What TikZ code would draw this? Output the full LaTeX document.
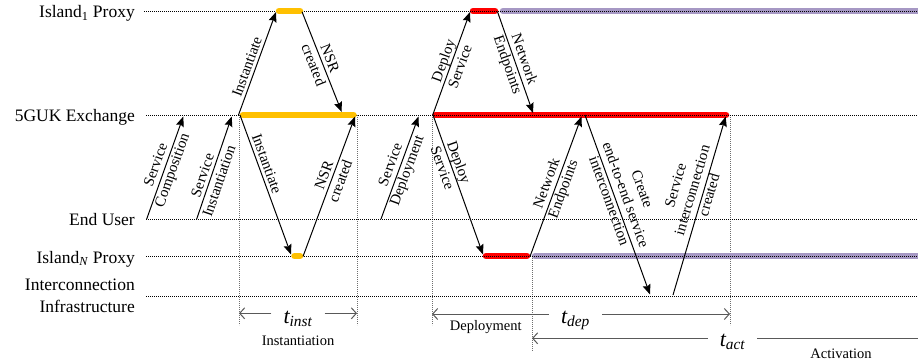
\documentclass[tikz,border=0pt]{standalone}
\usepackage{fontspec}
\setmainfont{Liberation Serif}
\usetikzlibrary{arrows.meta}
\definecolor{barorange}{RGB}{255,192,0}
\definecolor{barred}{RGB}{255,0,0}
\definecolor{barpurple}{RGB}{166,152,196}
\definecolor{tgray}{RGB}{89,89,89}
\definecolor{guidegray}{RGB}{110,110,110}
\begin{document}
\begin{tikzpicture}[x=1pt,y=-1pt,
  rowline/.style={line width=0.7pt, dash pattern=on 0.8pt off 1.2pt},
  guide/.style={guidegray, line width=0.7pt, dash pattern=on 0.8pt off 1.2pt},
  bar/.style={line width=6.5pt, line cap=round},
  msg/.style={line width=1pt, -{Stealth[length=10pt,width=8pt,inset=1.5pt]}},
  msglabel/.style={sloped, align=center, font=\fontsize{15}{17.5}\selectfont, inner sep=1pt},
  msgabove/.style={sloped, above, font=\fontsize{15}{17.5}\selectfont, inner sep=3pt},
  rowlabel/.style={anchor=base east, inner sep=0pt, font=\fontsize{17.5}{22}\selectfont},
  tarrow/.style={tgray, line width=1pt, -{Straight Barb[length=5pt,width=11pt]}},
  tline/.style={tgray, line width=1pt},
  tlab/.style={anchor=base, inner xsep=12pt, inner ysep=0pt, font=\fontsize{22}{24}\selectfont\itshape},
  phaselabel/.style={anchor=base, inner sep=0pt, font=\fontsize{14.5}{17}\selectfont}
]
\useasboundingbox (0,0) rectangle (918,360);

% row lines end points
\coordinate (r1a) at (144,11);    \coordinate (r1b) at (918,11);
\coordinate (r2a) at (146,115);   \coordinate (r2b) at (918,115);
\coordinate (r3a) at (146,219);   \coordinate (r3b) at (918,219);
\coordinate (r4a) at (146,256);   \coordinate (r4b) at (918,256);
\coordinate (r5a) at (146,296);   \coordinate (r5b) at (918,296);

% guides
\coordinate (g1a) at (239,115); \coordinate (g1b) at (239,325);
\coordinate (g2a) at (357,115); \coordinate (g2b) at (357,325);
\coordinate (g3a) at (432,115); \coordinate (g3b) at (432,325);
\coordinate (g4a) at (532,256); \coordinate (g4b) at (532,351);
\coordinate (g5a) at (730,115); \coordinate (g5b) at (730,325);
\draw[guide] (g1a) -- (g1b);
\draw[guide] (g2a) -- (g2b);
\draw[guide] (g3a) -- (g3b);
\draw[guide] (g4a) -- (g4b);
\draw[guide] (g5a) -- (g5b);

% red and purple bars
\coordinate (rb1a) at (473,11);    \coordinate (rb1b) at (495,11);
\coordinate (rb2a) at (435.5,115); \coordinate (rb2b) at (726,115);
\coordinate (rb3a) at (486,256);   \coordinate (rb3b) at (527,256);
\coordinate (pb1a) at (503,11);    \coordinate (pb1b) at (924,11);
\coordinate (pb2a) at (535,256);   \coordinate (pb2b) at (924,256);
\draw[bar, barpurple] (pb1a) -- (pb1b);
\draw[bar, barpurple] (pb2a) -- (pb2b);
\draw[bar, barred] (rb1a) -- (rb1b);
\draw[bar, barred] (rb2a) -- (rb2b);
\draw[bar, barred] (rb3a) -- (rb3b);

% row lines
\draw[rowline] (r1a) -- (r1b);
\draw[rowline] (r2a) -- (r2b);
\draw[rowline] (r3a) -- (r3b);
\draw[rowline] (r4a) -- (r4b);
\draw[rowline] (r5a) -- (r5b);

% orange bars
\coordinate (ob1a) at (279,11);  \coordinate (ob1b) at (300,11);
\coordinate (ob2a) at (243,115); \coordinate (ob2b) at (353.5,115);
\coordinate (ob3a) at (294.5,256); \coordinate (ob3b) at (300,256);
\draw[bar, barorange] (ob1a) -- (ob1b);
\draw[bar, barorange] (ob2a) -- (ob2b);
\draw[bar, barorange] (ob3a) -- (ob3b);

% row labels
\node[rowlabel] (lI1) at (135,17.5) {Island\textsubscript{1} Proxy};
\node[rowlabel] (l5G) at (135,121.5) {5GUK Exchange};
\node[rowlabel] (lEU) at (135,225.3) {End User};
\node[rowlabel] (lIN) at (135,263) {Island\textsubscript{\textit{N}} Proxy};
\node[rowlabel, anchor=east, align=right] (lIC) at (135,296) {Interconnection\\Infrastructure};

% message end points
\coordinate (sc0) at (146.7,219);  \coordinate (sc1) at (183.3,116.5);
\coordinate (si0) at (196.7,219);  \coordinate (si1) at (231.7,116.5);
\coordinate (iu0) at (238.5,115);  \coordinate (iu1) at (276,12);
\coordinate (nd0) at (302,11.7);   \coordinate (nd1) at (341.7,112);
\coordinate (id0) at (240,115);    \coordinate (id1) at (291,254.5);
\coordinate (nu0) at (303,256.5);  \coordinate (nu1) at (355,116.5);
\coordinate (sd0) at (381,219);    \coordinate (sd1) at (418.5,116.5);
\coordinate (du0) at (432.7,115);  \coordinate (du1) at (470,12);
\coordinate (ed0) at (497.5,11.7); \coordinate (ed1) at (533,113);
\coordinate (dd0) at (433,115);    \coordinate (dd1) at (483,254.5);
\coordinate (eu0) at (530,256.5);  \coordinate (eu1) at (581.5,116.5);
\coordinate (cd0) at (585,115);    \coordinate (cd1) at (650,294.5);
\coordinate (ic0) at (673,295);    \coordinate (ic1) at (725.7,116.5);

\draw[msg] (sc0) -- node[msglabel, pos=0.5] (lsc) {Service\\Composition} (sc1);
\draw[msg] (si0) -- node[msglabel, pos=0.4] (lsi) {Service\\Instantiation} (si1);
\draw[msg] (iu0) -- node[msgabove, pos=0.44] (liu) {Instantiate} (iu1);
\draw[msg] (nd0) -- node[msglabel, pos=0.5] (lnd) {NSR\\created} (nd1);
\draw[msg] (id0) -- node[msgabove, pos=0.37] (lid) {Instantiate} (id1);
\draw[msg] (nu0) -- node[msglabel, pos=0.56] (lnu) {NSR\\created} (nu1);
\draw[msg] (sd0) -- node[msglabel, pos=0.5] (lsd) {Service\\Deployment} (sd1);
\draw[msg] (du0) -- node[msglabel, pos=0.5] (ldu) {Deploy\\Service} (du1);
\draw[msg] (ed0) -- node[msglabel, pos=0.5] (led) {Network\\Endpoints} (ed1);
\draw[msg] (dd0) -- node[msglabel, pos=0.36] (ldd) {Deploy\\Service} (dd1);
\draw[msg] (eu0) -- node[msglabel, pos=0.5] (leu) {Network\\Endpoints} (eu1);
\draw[msg] (cd0) -- node[msglabel, pos=0.466] (lcd) {Create\\end-to-end service\\interconnection\\\strut} (cd1);
\draw[msg] (ic0) -- node[msglabel, pos=0.57] (lic) {Service\\interconnection\\created\\\strut} (ic1);

% time spans
\node[tlab] (tinst) at (298,323.3) {t\textsubscript{inst}};
\node[tlab] (tdep) at (575.5,323.3) {t\textsubscript{dep}};
\node[tlab] (tact) at (732.5,346.7) {t\textsubscript{act}};
\coordinate (ti0) at (239,313.3); \coordinate (ti1) at (357,313.3);
\coordinate (td0) at (432,314);   \coordinate (td1) at (730,314);
\coordinate (ta0) at (532,338.3); \coordinate (ta1) at (918,338.3);
\draw[tarrow] (tinst.west |- ti0) -- (ti0);
\draw[tarrow] (tinst.east |- ti1) -- (ti1);
\draw[tarrow] (tdep.west |- td0) -- (td0);
\draw[tarrow] (tdep.east |- td1) -- (td1);
\draw[tarrow] (tact.west |- ta0) -- (ta0);
\draw[tline] (tact.east |- ta1) -- (ta1);

\node[phaselabel] (pinst) at (298,345) {Instantiation};
\node[phaselabel] (pdep) at (485.8,330.7) {Deployment};
\node[phaselabel] (pact) at (841,358) {Activation};
\end{tikzpicture}
\end{document}
